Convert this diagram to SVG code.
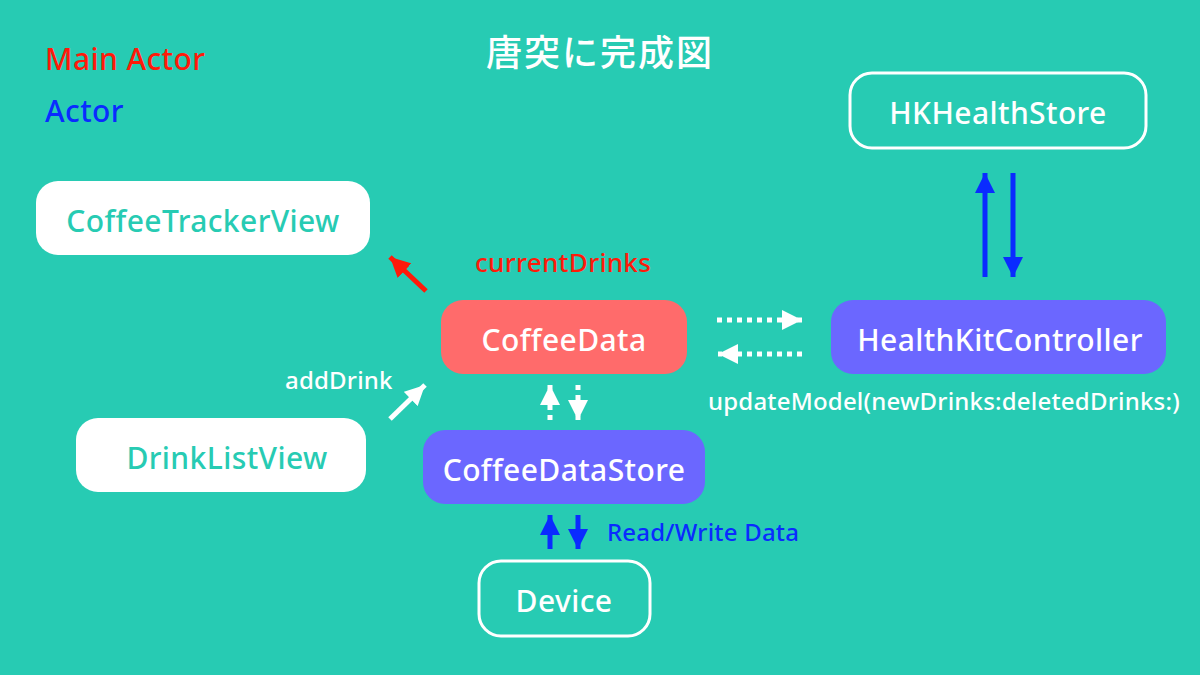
<svg xmlns="http://www.w3.org/2000/svg" width="1200" height="675" viewBox="0 0 1200 675">
<defs>
<style>
text{font-family:"Noto Sans","Noto Sans CJK JP",sans-serif;font-weight:500}
.lbl{font-size:30px;letter-spacing:0.4px;text-anchor:middle;dominant-baseline:central}
.w{fill:#ffffff}
.t{fill:#27CBB3}
.out{fill:none;stroke:#ffffff;stroke-width:3}
.note{font-size:24px;letter-spacing:0.2px}
.legend{font-size:30px;letter-spacing:0.4px}
</style>
<marker id="hw" viewBox="0 0 10 10" refX="10" refY="5" markerWidth="4" markerHeight="4" orient="auto" markerUnits="strokeWidth"><path d="M0,0L10,5L0,10z" fill="#ffffff"/></marker>
<marker id="hr" viewBox="0 0 10 10" refX="10" refY="5" markerWidth="4" markerHeight="4" orient="auto" markerUnits="strokeWidth"><path d="M0,0L10,5L0,10z" fill="#FF1A0A"/></marker>
<marker id="hb" viewBox="0 0 10 10" refX="10" refY="5" markerWidth="4" markerHeight="4" orient="auto" markerUnits="strokeWidth"><path d="M0,0L10,5L0,10z" fill="#0A2BFF"/></marker>
</defs>
<rect width="1200" height="675" fill="#27CBB3"/>
<text class="legend" x="45" y="70" fill="#FF1A0A">Main Actor</text>
<text class="legend" x="45" y="122" fill="#0A2BFF">Actor</text>
<text x="600" y="66" font-size="36" letter-spacing="2" fill="#ffffff" text-anchor="middle">唐突に完成図</text>

<g id="CoffeeTrackerView"><rect x="36" y="181" width="334" height="74" rx="22" fill="#ffffff"/><text class="lbl t" x="203" y="220">CoffeeTrackerView</text></g>
<g id="HKHealthStore"><rect class="out" x="850" y="73" width="296" height="75" rx="22"/><text class="lbl w" x="998" y="112">HKHealthStore</text></g>
<g id="CoffeeData"><rect x="441" y="300" width="246" height="74" rx="22" fill="#FF6B6B"/><text class="lbl w" x="564" y="339">CoffeeData</text></g>
<g id="HealthKitController"><rect x="831" y="300" width="335" height="74" rx="22" fill="#6B67FF"/><text class="lbl w" x="1000" y="339">HealthKitController</text></g>
<g id="DrinkListView"><rect x="76" y="418" width="290" height="74" rx="22" fill="#ffffff"/><text class="lbl t" x="227" y="457">DrinkListView</text></g>
<g id="CoffeeDataStore"><rect x="423" y="430" width="282" height="74" rx="22" fill="#6B67FF"/><text class="lbl w" x="564" y="469">CoffeeDataStore</text></g>
<g id="Device"><rect class="out" x="479" y="561" width="171" height="75" rx="22"/><text class="lbl w" x="564" y="600">Device</text></g>

<g id="connectors">
<line x1="426" y1="291" x2="390" y2="257" stroke="#FF1A0A" stroke-width="5" marker-end="url(#hr)"/>
<line x1="390" y1="419" x2="425" y2="385" stroke="#ffffff" stroke-width="5" marker-end="url(#hw)"/>
<line x1="550" y1="420" x2="550" y2="385" stroke="#ffffff" stroke-width="5" stroke-dasharray="5 5" marker-end="url(#hw)"/>
<line x1="578" y1="385" x2="578" y2="420" stroke="#ffffff" stroke-width="5" stroke-dasharray="5 5" marker-end="url(#hw)"/>
<line x1="717" y1="320" x2="802" y2="320" stroke="#ffffff" stroke-width="5" stroke-dasharray="5 5" marker-end="url(#hw)"/>
<line x1="802" y1="354" x2="718" y2="354" stroke="#ffffff" stroke-width="5" stroke-dasharray="5 5" marker-end="url(#hw)"/>
<line x1="985" y1="277" x2="985" y2="173" stroke="#0A2BFF" stroke-width="5" marker-end="url(#hb)"/>
<line x1="1013" y1="173" x2="1013" y2="277" stroke="#0A2BFF" stroke-width="5" marker-end="url(#hb)"/>
<line x1="550" y1="549" x2="550" y2="515" stroke="#0A2BFF" stroke-width="5" marker-end="url(#hb)"/>
<line x1="578" y1="515" x2="578" y2="549" stroke="#0A2BFF" stroke-width="5" marker-end="url(#hb)"/>
</g>
<text x="475" y="272" font-size="26" letter-spacing="0.3" fill="#FF1A0A">currentDrinks</text>
<text class="note" x="285" y="389" fill="#ffffff">addDrink</text>
<text class="note" x="708" y="410" fill="#ffffff">updateModel(newDrinks:deletedDrinks:)</text>
<text class="note" x="607" y="541" fill="#0A2BFF">Read/Write Data</text>
</svg>
